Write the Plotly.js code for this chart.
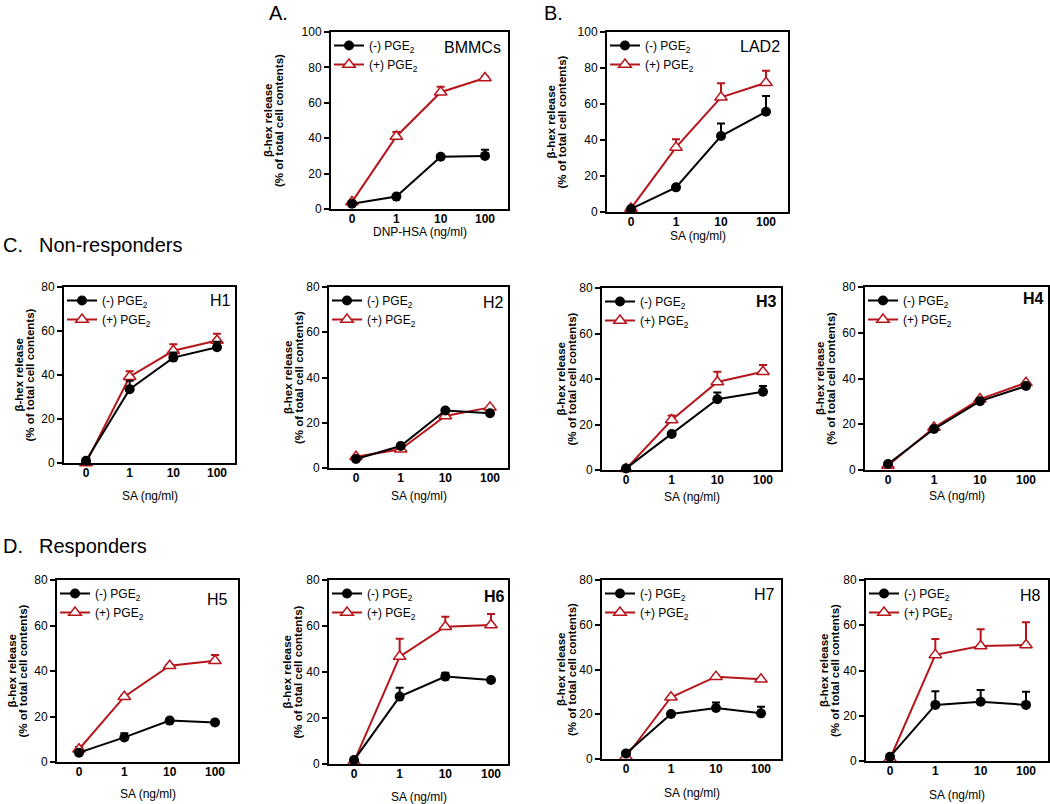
<!DOCTYPE html>
<html><head><meta charset="utf-8">
<script src="https://cdn.plot.ly/plotly-3.0.1.min.js"></script>
<style>html,body{margin:0;padding:0;background:#fff}</style>
</head><body>
<div id="chart" style="width:1050px;height:804px"></div>
<script>
// ---------- DATA ----------
const categories = ['0', '1', '10', '100'];
const panelNames = ['BMMCs', 'LAD2', 'H1', 'H2', 'H3', 'H4', 'H5', 'H6', 'H7', 'H8'];
const xTitles = ['DNP-HSA (ng/ml)', 'SA (ng/ml)', 'SA (ng/ml)', 'SA (ng/ml)', 'SA (ng/ml)', 'SA (ng/ml)', 'SA (ng/ml)', 'SA (ng/ml)', 'SA (ng/ml)', 'SA (ng/ml)'];
const yTitleLines = ['β-hex release', '(% of total cell contents)'];
const yTicksA = [0, 20, 40, 60, 80, 100];
const yTicksH = [0, 20, 40, 60, 80];

const bmmcMinus = [3, 7, 29.5, 30];      const bmmcMinusErr = [0, 0, 0, 3.5];
const bmmcPlus  = [4, 41, 66, 74];       const bmmcPlusErr  = [0, 2.5, 3, 0.8];
const lad2Minus = [1.7, 13.7, 42.2, 55.7]; const lad2MinusErr = [0, 0.5, 7, 8.7];
const lad2Plus  = [2, 35.9, 63.7, 71.8]; const lad2PlusErr  = [0, 4.5, 7.8, 6.7];
const h1Minus = [1, 33.5, 47.9, 52.6];   const h1MinusErr = [0, 3.9, 2.3, 2.5];
const h1Plus  = [0, 39.2, 51, 55.7];     const h1PlusErr  = [0, 2.5, 3, 3];
const h2Minus = [4, 9.7, 25.4, 24.2];    const h2MinusErr = [0, 0.5, 0.5, 0.5];
const h2Plus  = [5, 8.3, 23, 26.8];      const h2PlusErr  = [0, 0.5, 0.5, 0.5];
const h3Minus = [0.7, 15.8, 31.1, 34.4]; const h3MinusErr = [0, 0.5, 3, 2.5];
const h3Plus  = [0.5, 22, 38.7, 43.2];   const h3PlusErr  = [0, 2, 4.5, 3];
const h4Minus = [2.6, 17.9, 30.1, 36.7]; const h4MinusErr = [0, 0.5, 0.5, 0.5];
const h4Plus  = [2, 18.6, 31, 38.1];     const h4PlusErr  = [0, 0.5, 0.5, 0.5];
const h5Minus = [4.1, 10.8, 18.2, 17.4]; const h5MinusErr = [0, 1.8, 0.5, 0.5];
const h5Plus  = [5.6, 28.7, 42.3, 44.5]; const h5PlusErr  = [1, 0.5, 0.5, 2.5];
const h6Minus = [1.7, 29.3, 38, 36.5];   const h6MinusErr = [0, 3.9, 1.7, 0.5];
const h6Plus  = [1, 46.7, 59.7, 60.4];   const h6PlusErr  = [0, 7.8, 4.3, 4.8];
const h7Minus = [2.5, 20.1, 22.8, 20.4]; const h7MinusErr = [0, 0.5, 2.4, 3];
const h7Plus  = [1, 27.6, 36.8, 35.6];   const h7PlusErr  = [0, 0.5, 0.5, 0.5];
const h8Minus = [1.9, 24.8, 26.2, 24.8]; const h8MinusErr = [0, 6, 5.2, 5.8];
const h8Plus  = [1, 46.9, 50.8, 51.3];   const h8PlusErr  = [0, 7, 7.4, 10];

const minusSeries = [bmmcMinus, lad2Minus, h1Minus, h2Minus, h3Minus, h4Minus, h5Minus, h6Minus, h7Minus, h8Minus];
const minusErrs   = [bmmcMinusErr, lad2MinusErr, h1MinusErr, h2MinusErr, h3MinusErr, h4MinusErr, h5MinusErr, h6MinusErr, h7MinusErr, h8MinusErr];
const plusSeries  = [bmmcPlus, lad2Plus, h1Plus, h2Plus, h3Plus, h4Plus, h5Plus, h6Plus, h7Plus, h8Plus];
const plusErrs    = [bmmcPlusErr, lad2PlusErr, h1PlusErr, h2PlusErr, h3PlusErr, h4PlusErr, h5PlusErr, h6PlusErr, h7PlusErr, h8PlusErr];

// ---------- LAYOUT GEOMETRY (pixels) ----------
const W = 1050, H = 804;
const geo = [
  {l:331, r:508,  t:32,  b:209, c0:352, c3:485,  ymax:100, yt:273, xt:232, bold:false, labR:503,  labY:47},
  {l:607, r:788,  t:32,  b:212, c0:631, c3:766,  ymax:100, yt:556, xt:236, bold:false, labR:782,  labY:46},
  {l:64,  r:235,  t:287, b:463, c0:86,  c3:217,  ymax:80,  yt:24,  xt:496, bold:false, labR:233,  labY:300},
  {l:329, r:508,  t:287, b:468, c0:356, c3:490,  ymax:80,  yt:293, xt:496, bold:false, labR:506,  labY:302},
  {l:602, r:781,  t:288, b:470, c0:626, c3:763,  ymax:80,  yt:566, xt:497, bold:true,  labR:779,  labY:301},
  {l:865, r:1048, t:287, b:470, c0:888, c3:1026, ymax:80,  yt:826, xt:496, bold:true,  labR:1046, labY:299},
  {l:57,  r:238,  t:580, b:762, c0:79,  c3:215,  ymax:80,  yt:17,  xt:794, bold:false, labR:230,  labY:599},
  {l:329, r:508,  t:580, b:764, c0:354, c3:491,  ymax:80,  yt:292, xt:797, bold:true,  labR:507,  labY:596},
  {l:602, r:781,  t:580, b:759, c0:626, c3:761,  ymax:80,  yt:566, xt:793, bold:false, labR:777,  labY:594},
  {l:866, r:1048, t:580, b:761, c0:890, c3:1026, ymax:80,  yt:829, xt:795, bold:false, labR:1043, labY:595}
];

const FONT = 'Liberation Sans, Arial, Helvetica, sans-serif';
const RED = '#b5161b';
const px = v => v / W;
const py = v => 1 - v / H;

const traces = [];
const layout = {
  width: W, height: H,
  margin: {l: 0, r: 0, t: 0, b: 0},
  paper_bgcolor: '#fff', plot_bgcolor: '#fff',
  font: {family: FONT, color: '#000', size: 12},
  showlegend: true,
  annotations: []
};

geo.forEach((g, i) => {
  const n = i + 1;
  const xa = 'x' + (n === 1 ? '' : n), ya = 'y' + (n === 1 ? '' : n);
  const xk = 'xaxis' + (n === 1 ? '' : n), yk = 'yaxis' + (n === 1 ? '' : n);
  const lg = 'legend' + (n === 1 ? '' : n);
  const sp = (g.c3 - g.c0) / 3;
  layout[xk] = {
    domain: [px(g.l), px(g.r)], anchor: ya,
    type: 'category', categoryorder: 'array', categoryarray: categories,
    range: [(g.l - g.c0) / sp, (g.r - g.c0) / sp],
    showline: true, mirror: true, linecolor: '#000', linewidth: 2,
    showgrid: false, zeroline: false, ticks: '', fixedrange: true, ticklabelstandoff: -2,
    tickfont: {family: FONT, size: 12, color: '#000', weight: 'bold'}
  };
  const yt = g.ymax === 100 ? yTicksA : yTicksH;
  layout[yk] = {
    domain: [py(g.b), py(g.t)], anchor: xa,
    range: [0, g.ymax], tickvals: yt,
    showline: true, mirror: true, linecolor: '#000', linewidth: 2,
    showgrid: false, zeroline: false, ticks: 'outside', ticklen: 5, tickwidth: 2, tickcolor: '#000',
    tickfont: {family: FONT, size: 12, color: '#000'}, fixedrange: true
  };
  layout[lg] = {
    x: px(g.l - 2), y: py(g.t - 1), xanchor: 'left', yanchor: 'top',
    bgcolor: 'rgba(0,0,0,0)', borderwidth: 0, tracegroupgap: 0, itemwidth: 30,
    font: {family: FONT, size: 12, color: '#000'}
  };
  traces.push({
    x: categories, y: plusSeries[i], xaxis: xa, yaxis: ya, legend: lg, legendrank: 2,
    name: '(+) PGE<sub>2</sub>', type: 'scatter', mode: 'lines+markers', cliponaxis: false,
    line: {color: RED, width: 2},
    marker: {symbol: 'triangle-up', size: 11, color: '#fff', line: {color: RED, width: 1.5}},
    error_y: {type: 'data', symmetric: false, array: plusErrs[i], arrayminus: [0, 0, 0, 0], color: RED, thickness: 2, width: 4}
  });
  traces.push({
    x: categories, y: minusSeries[i], xaxis: xa, yaxis: ya, legend: lg, legendrank: 1,
    name: '(-) PGE<sub>2</sub>', type: 'scatter', mode: 'lines+markers', cliponaxis: false,
    line: {color: '#000', width: 2},
    marker: {symbol: 'circle', size: 10, color: '#000'},
    error_y: {type: 'data', symmetric: false, array: minusErrs[i], arrayminus: [0, 0, 0, 0], color: '#000', thickness: 2, width: 4}
  });
  // y-axis title, two lines placed close together
  yTitleLines.forEach((txt, k) => layout.annotations.push({
    xref: 'paper', yref: 'paper', x: px(g.yt + (k === 0 ? -5.5 : 5.5)), y: py((g.t + g.b) / 2),
    text: txt, textangle: -90, showarrow: false,
    xanchor: 'center', yanchor: 'middle',
    font: {family: FONT, size: 11.5, color: '#000', weight: 'bold'}
  }));
  layout.annotations.push({
    xref: 'paper', yref: 'paper', x: px((g.l + g.r) / 2), y: py(g.xt),
    text: xTitles[i], showarrow: false, xanchor: 'center', yanchor: 'middle',
    font: {family: FONT, size: 12, color: '#000'}
  });
  layout.annotations.push({
    xref: 'paper', yref: 'paper', x: px(g.labR), y: py(g.labY),
    text: g.bold ? '<b>' + panelNames[i] + '</b>' : panelNames[i], showarrow: false,
    xanchor: 'right', yanchor: 'middle',
    font: {family: FONT, size: 16, color: '#000'}
  });
});

// panel letters and section headings
[
  {x: 267, y: 13, t: 'A.'}, {x: 542, y: 13, t: 'B.'},
  {x: 1, y: 245, t: 'C.'}, {x: 37, y: 245, t: 'Non-responders'},
  {x: 1, y: 546, t: 'D.'}, {x: 37, y: 546, t: 'Responders'}
].forEach(a => layout.annotations.push({
  xref: 'paper', yref: 'paper', x: px(a.x), y: py(a.y), text: a.t, showarrow: false,
  xanchor: 'left', yanchor: 'middle', font: {family: FONT, size: 20, color: '#000'}
}));

Plotly.newPlot('chart', traces, layout, {staticPlot: true, displayModeBar: false});
</script>
</body></html>
